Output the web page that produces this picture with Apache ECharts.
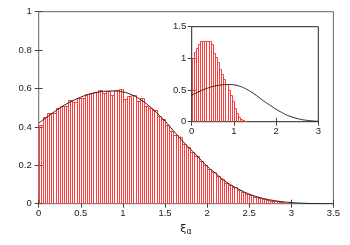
<!DOCTYPE html>
<html><head><meta charset="utf-8">
<script src="https://cdn.jsdelivr.net/npm/echarts@6/dist/echarts.min.js"></script>
<style>html,body{margin:0;padding:0;background:#fff}#c{width:350px;height:245px}</style>
</head><body><div id="c"></div>
<script>
// smooth reference curve (same function in main plot and inset)
const curveX = [0,0.1,0.2,0.3,0.4,0.5,0.6,0.7,0.8,0.9,1.0,1.1,1.2,1.3,1.4,1.5,1.6,1.7,1.8,1.9,2.0,2.1,2.2,2.3,2.4,2.5,2.6,2.7,2.8,2.9,3.0,3.1,3.2,3.3,3.4,3.5];
const curveY = [0.42,0.452,0.483,0.512,0.535,0.555,0.570,0.580,0.586,0.587,0.582,0.568,0.545,0.513,0.474,0.43,0.38,0.33,0.285,0.24,0.195,0.158,0.122,0.093,0.07,0.05,0.035,0.024,0.016,0.01,0.006,0.003,0.0015,0.0007,0.0003,0.0001];

// main histogram (bin width 0.05, starting at 0)
const mainBinWidth = 0.05;
const mainHist = [0.41,0.45,0.47,0.47,0.50,0.51,0.51,0.54,0.53,0.55,
  0.55,0.57,0.575,0.58,0.59,0.575,0.585,0.565,0.59,0.595,
  0.545,0.56,0.565,0.535,0.55,0.51,0.50,0.49,0.455,0.44,
  0.41,0.38,0.36,0.35,0.31,0.295,0.27,0.25,0.22,0.20,
  0.18,0.165,0.145,0.13,0.11,0.095,0.085,0.07,0.062,0.05,
  0.045,0.035,0.03,0.025,0.02,0.015,0.012,0.01,0.006,0.004];

// inset histogram (bin width 0.05, starting at 0)
const insetBinWidth = 0.05;
const insetHist = [1.01,1.10,1.16,1.22,1.27,1.28,1.28,1.28,1.28,1.22,
  1.09,1.02,0.94,0.84,0.76,0.67,0.59,0.50,0.42,0.33,
  0.22,0.13,0.08,0.04,0.02,0.01];

const mainTicksX = [0,3.5,0.5];
const mainTicksY = [0,1,0.2];
const insetTicksX = [0,3,1];
const insetTicksY = [0,1.5,0.5];

const RED = '#ff3c3c';
const curveData = curveX.map((x,i)=>[x,curveY[i]]);
const mainBoxes = mainHist.map((h,i)=>[i*mainBinWidth,(i+1)*mainBinWidth,h]);
const mainImp = mainHist.map((h,i)=>[(i+0.5)*mainBinWidth,h]);
const insetBoxes = insetHist.map((h,i)=>[i*insetBinWidth,(i+1)*insetBinWidth,h]);

function snap(v){return Math.round(v)+0.5;}
function seg(x1,y1,x2,y2,c){
  return {type:'line', shape:{x1:x1,y1:y1,x2:x2,y2:y2}, style:{stroke:c, lineWidth:1}};
}
function boxRender(params, api){
  const x0=api.value(0), x1=api.value(1), h=api.value(2);
  const p0=api.coord([x0,0]), p1=api.coord([x1,h]);
  const L=snap(p0[0]), R=snap(p1[0]), B=p0[1], T=snap(p1[1]);
  return {type:'group', children:[seg(L,B,L,T,RED), seg(L,T,R,T,RED), seg(R,T,R,B,RED)]};
}
function impRender(params, api){
  const x=api.value(0), h=api.value(1);
  const p0=api.coord([x,0]), p1=api.coord([x,h]);
  const X=snap(p0[0]);
  return seg(X,p0[1],X,p1[1],RED);
}

const FONT = 'Liberation Sans';
const txt = {color:'#222', fontFamily:FONT, fontSize:9.5};
function ax(type, grid, pos, t, showLabel, margin, extra){
  return Object.assign({
    type:'value', gridIndex:grid, position:pos, min:t[0], max:t[1], interval:t[2],
    axisLine:{show:false}, splitLine:{show:false},
    axisTick:{show:true, inside:true, length:4, lineStyle:{color:'#444', width:1}},
    axisLabel:{show:showLabel, margin:margin, ...txt}
  }, extra||{});
}

const chart = echarts.init(document.getElementById('c'), null, {renderer:'canvas'});
chart.setOption({
  animation:false,
  backgroundColor:'#fff',
  color:[RED, RED, '#222', RED, '#222'],
  grid:[
    {left:38.7, top:11.7, width:294.7, height:192, show:true, borderColor:'#666', borderWidth:1, backgroundColor:'#fff'},
    {left:191.7, top:26.7, width:126.6, height:95, show:true, borderColor:'#222', borderWidth:1, backgroundColor:'#fff', z:5}
  ],
  xAxis:[
    ax('x',0,'bottom',mainTicksX,true,5,{
      name:'ξ{a|α}', nameLocation:'middle', nameGap:15,
      nameTextStyle:{color:'#222', fontFamily:'DejaVu Sans', fontSize:11, rich:{a:{fontSize:8, fontFamily:'DejaVu Sans', color:'#222', verticalAlign:'bottom', padding:[6,0,0,0]}}}
    }),
    ax('x',0,'top',mainTicksX,false,5),
    ax('x',1,'bottom',insetTicksX,true,4.5,{z:6}),
    ax('x',1,'top',insetTicksX,false,4,{z:6})
  ],
  yAxis:[
    ax('y',0,'left',mainTicksY,true,7),
    ax('y',0,'right',mainTicksY,false,7),
    ax('y',1,'left',insetTicksY,true,5.5,{z:6}),
    ax('y',1,'right',insetTicksY,false,5,{z:6})
  ],
  series:[
    {type:'custom', xAxisIndex:0, yAxisIndex:0, renderItem:boxRender, data:mainBoxes, clip:true, silent:true, z:2},
    {type:'custom', xAxisIndex:0, yAxisIndex:0, renderItem:impRender, data:mainImp, clip:true, silent:true, z:3},
    {type:'line', xAxisIndex:0, yAxisIndex:0, data:curveData, smooth:true, showSymbol:false, lineStyle:{color:'#222', width:1}, clip:true, silent:true, z:4},
    {type:'custom', xAxisIndex:2, yAxisIndex:2, renderItem:boxRender, data:insetBoxes, clip:true, silent:true, z:7},
    {type:'line', xAxisIndex:2, yAxisIndex:2, data:curveData.filter(p=>p[0]<=3), smooth:true, showSymbol:false, lineStyle:{color:'#222', width:1}, clip:true, silent:true, z:8}
  ]
});
</script></body></html>
